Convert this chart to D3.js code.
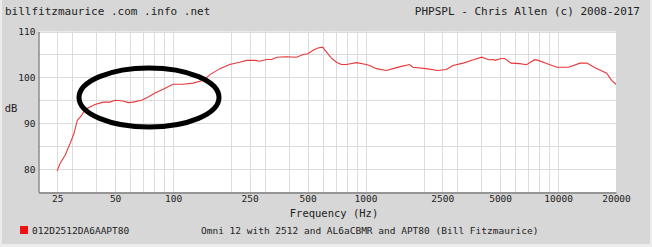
<!DOCTYPE html>
<html>
<head>
<meta charset="utf-8">
<script src="https://cdn.jsdelivr.net/npm/d3@7"></script>
<style>
  body { margin: 0; background: #ececec; }
  text { font-family: "DejaVu Sans Mono", monospace; fill: #222; }
</style>
</head>
<body>
<div id="chart"></div>
<script>
// Frequency response (Hz / dB)
var freqs = [25, 25.9, 27.5, 29.2, 30.6, 31.8, 33.5, 34.9, 39.3, 43.4, 47, 50, 55, 58.5, 62, 68.6, 74.3, 80.5, 88.9, 100,
  113, 127, 143.6, 155.6, 175, 197, 222, 241, 266, 282, 306, 326, 345, 388, 438, 474, 502, 534, 566, 598,
  627, 665, 706, 749, 795, 897, 1010, 1050, 1138, 1282, 1390, 1534, 1692, 1760, 2064, 2376, 2628, 2846, 3216, 3632,
  4018, 4352, 4616, 4708, 5080, 5283, 5700, 6320, 6860, 7560, 7900, 8720, 9860, 11340, 13000, 14120, 15570, 17900, 18960, 20000];
var dbs = [79.6, 81.2, 83.0, 85.6, 87.8, 90.6, 91.7, 93.0, 94.1, 94.6, 94.6, 95.0, 94.85, 94.5, 94.6, 95.0, 95.7, 96.6, 97.4, 98.5,
  98.5, 98.75, 99.35, 100.6, 101.9, 102.8, 103.3, 103.7, 103.7, 103.5, 103.9, 103.9, 104.4, 104.5, 104.4, 105.0, 105.15, 105.9, 106.4, 106.6,
  105.5, 104.2, 103.3, 102.8, 102.8, 103.2, 102.8, 102.6, 101.9, 101.5, 101.9, 102.4, 102.8, 102.2, 101.9, 101.5, 101.7, 102.6, 103.1, 103.85,
  104.4, 103.85, 103.9, 103.7, 104.1, 104.1, 103.1, 103.0, 102.75, 103.85, 103.7, 103.0, 102.2, 102.2, 103.1, 103.1, 102.1, 100.9, 99.35, 98.5];

var xTickLabels = [25, 50, 100, 250, 500, 1000, 2500, 5000, 10000, 20000];
var yTickLabels = [80, 90, 100, 110];
var yGrid = [80, 85, 90, 95, 100, 105, 110];
var seriesName = "012D2512DA6AAPT80";
var seriesDesc = "Omni 12 with 2512 and AL6aCBMR and APT80 (Bill Fitzmaurice)";

var W = 652, H = 247;
var margin = { top: 31.5, left: 38.5, right: 36, bottom: 55 };

var svg = d3.select("#chart").append("svg")
  .attr("width", W)
  .attr("height", H);

svg.append("rect")
  .attr("x", 2).attr("y", 0)
  .attr("width", W - 4).attr("height", H - 3)
  .attr("fill", "#d7d7d7");

var x = d3.scaleLog().domain([20, 20000]).range([margin.left, W - margin.right]);
var y = d3.scaleLinear().domain([75, 110]).range([H - margin.bottom, margin.top]);

// plot background
svg.append("rect")
  .attr("x", x(20)).attr("y", y(110))
  .attr("width", x(20000) - x(20)).attr("height", y(75) - y(110))
  .attr("fill", "#fff");

// vertical grid: 1..9 per decade plus the 25/250/2500 lines
var xGrid = [];
[10, 100, 1000, 10000].forEach(function (d) {
  for (var k = 1; k <= 9; k++) {
    var f = d * k;
    if (f > 20 && f < 20000) xGrid.push(f);
  }
});
xGrid.push(25, 250, 2500);

svg.append("g").selectAll("line")
  .data(xGrid).enter().append("line")
  .attr("x1", function (d) { return Math.round(x(d)) + 0.5; })
  .attr("x2", function (d) { return Math.round(x(d)) + 0.5; })
  .attr("y1", y(110)).attr("y2", y(75))
  .attr("stroke", "#dcdcdc").attr("stroke-width", 1);

svg.append("g").selectAll("line")
  .data(yGrid).enter().append("line")
  .attr("x1", x(20)).attr("x2", x(20000))
  .attr("y1", function (d) { return Math.round(y(d)) + 0.5; })
  .attr("y2", function (d) { return Math.round(y(d)) + 0.5; })
  .attr("stroke", "#dcdcdc").attr("stroke-width", 1);

// axes (no ticks, just the lines and labels)
var xAxis = svg.append("g")
  .attr("transform", "translate(0," + (Math.round(y(75)) + 0.5) + ")")
  .call(d3.axisBottom(x).tickValues(xTickLabels).tickSize(0).tickPadding(3).tickFormat(d3.format("d")));
var yAxis = svg.append("g")
  .attr("transform", "translate(" + (Math.round(x(20)) - 0.5) + ",0)")
  .call(d3.axisLeft(y).tickValues(yTickLabels).tickSize(0).tickPadding(3));
[xAxis, yAxis].forEach(function (g) {
  g.select(".domain").attr("stroke", "#555");
  g.selectAll("text").style("font-family", "DejaVu Sans Mono").style("font-size", "9.5px").attr("fill", "#222");
});

svg.append("text")
  .attr("x", 11).attr("y", 108).attr("dy", "0.35em")
  .attr("text-anchor", "middle")
  .style("font-size", "10.5px")
  .text("dB");

svg.append("text")
  .attr("x", 334).attr("y", 213.5).attr("dy", "0.35em")
  .attr("text-anchor", "middle")
  .style("font-size", "10.5px")
  .text("Frequency (Hz)");

// header
svg.append("text")
  .attr("x", 5).attr("y", 11.5).attr("dy", "0.35em")
  .style("font-size", "11px")
  .text("billfitzmaurice .com .info .net");
svg.append("text")
  .attr("x", 640).attr("y", 11.5).attr("dy", "0.35em")
  .attr("text-anchor", "end")
  .style("font-size", "11px")
  .text("PHPSPL - Chris Allen (c) 2008-2017");

// response curve
var points = freqs.map(function (f, i) { return { f: f, db: dbs[i] }; });
svg.append("path")
  .datum(points)
  .attr("fill", "none")
  .attr("stroke", "#e8383a")
  .attr("stroke-width", 1.1)
  .attr("d", d3.line()
    .x(function (d) { return x(d.f); })
    .y(function (d) { return y(d.db); }));

// hand-drawn ellipse annotation
svg.append("ellipse")
  .attr("cx", x(75)).attr("cy", y(95.6))
  .attr("rx", 70).attr("ry", 29.5)
  .attr("fill", "none")
  .attr("stroke", "#000")
  .attr("stroke-width", 5);

// legend
svg.append("rect")
  .attr("x", 20).attr("y", 226)
  .attr("width", 8).attr("height", 8)
  .attr("fill", "#ee1111");
svg.append("text")
  .attr("x", 32).attr("y", 230.5).attr("dy", "0.35em")
  .style("font-size", "9.5px")
  .text(seriesName);
svg.append("text")
  .attr("x", 201).attr("y", 230.5).attr("dy", "0.35em")
  .style("font-size", "9.5px")
  .text(seriesDesc);
</script>
</body>
</html>
